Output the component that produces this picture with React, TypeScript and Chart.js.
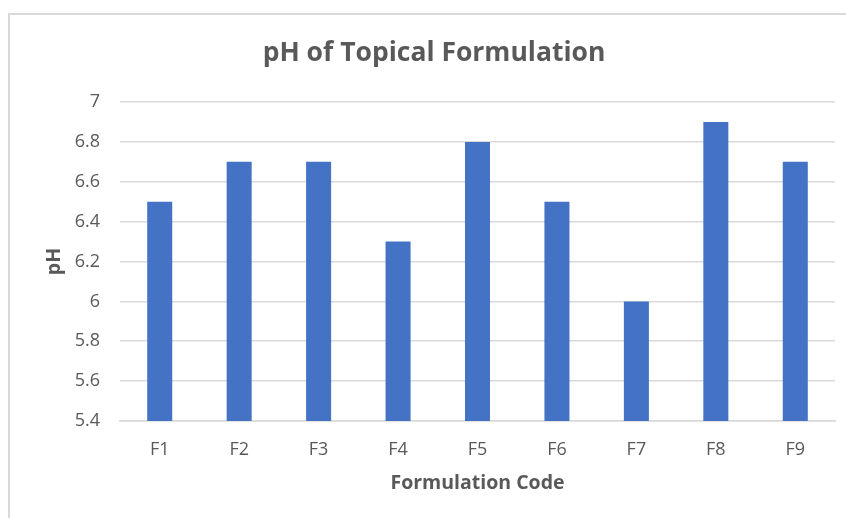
import React, { useEffect, useRef } from "react";
import { Chart, registerables } from "chart.js";

Chart.register(...registerables);

const categories = ["F1", "F2", "F3", "F4", "F5", "F6", "F7", "F8", "F9"];
const phValues = [6.5, 6.7, 6.7, 6.3, 6.8, 6.5, 6.0, 6.9, 6.7];
const yMin = 5.4;
const yMax = 7;
const yStep = 0.2;
const chartTitle = "pH of Topical Formulation";
const xTitle = "Formulation Code";
const yTitle = "pH";

const TEXT = "#595959";
const GRID = "#d9d9d9";
const FONT = "'Open Sans', sans-serif";

export default function App() {
  const ref = useRef<HTMLCanvasElement | null>(null);
  useEffect(() => {
    if (!ref.current) return;
    const chart = new Chart(ref.current, {
      type: "bar",
      data: {
        labels: categories,
        datasets: [
          {
            label: yTitle,
            data: phValues,
            backgroundColor: "#4472C4",
            borderWidth: 0,
            categoryPercentage: 1,
            barPercentage: 0.315,
          },
        ],
      },
      options: {
        responsive: false,
        animation: false,
        layout: { padding: { left: 33, right: 11, top: 0, bottom: 0 } },
        plugins: {
          legend: { display: false },
          tooltip: { enabled: false },
          title: {
            display: true,
            text: chartTitle,
            color: TEXT,
            font: { family: FONT, size: 26.5, weight: "bold" },
            padding: { top: 37.5, bottom: 32.7 },
          },
        },
        scales: {
          x: {
            grid: { display: false, drawTicks: false },
            border: { display: true, color: GRID, width: 1.5 },
            ticks: { color: TEXT, font: { family: FONT, size: 18 }, padding: 18 },
            title: {
              display: true,
              text: xTitle,
              color: TEXT,
              font: { family: FONT, size: 19.5, weight: "bold" },
              padding: { top: 0, bottom: 23 },
            },
            afterFit: (s: any) => {
              s.height = 97;
            },
          },
          y: {
            min: yMin,
            max: yMax,
            grid: { color: GRID, lineWidth: 1.5, drawTicks: false },
            border: { display: false },
            ticks: {
              stepSize: yStep,
              color: TEXT,
              font: { family: FONT, size: 18 },
              padding: 20,
              callback: (v: any) => String(Number(Number(v).toFixed(1))),
            },
            title: {
              display: true,
              text: yTitle,
              color: TEXT,
              font: { family: FONT, size: 19.5, weight: "bold" },
              padding: { top: 10, bottom: 0 },
            },
            afterFit: (s: any) => {
              s.width = 87;
            },
          },
        },
      },
    });
    return () => chart.destroy();
  }, []);

  return (
    <div style={{ position: "fixed", left: 0, top: 0, width: 846, height: 518, background: "#fff" }}>
      <div
        style={{
          position: "absolute",
          left: 8,
          top: 13,
          width: 860,
          height: 520,
          borderLeft: `2px solid ${GRID}`,
          borderTop: `2px solid ${GRID}`,
        }}
      />
      <canvas ref={ref} width={846} height={518} style={{ position: "absolute", left: 0, top: 0 }} />
    </div>
  );
}
